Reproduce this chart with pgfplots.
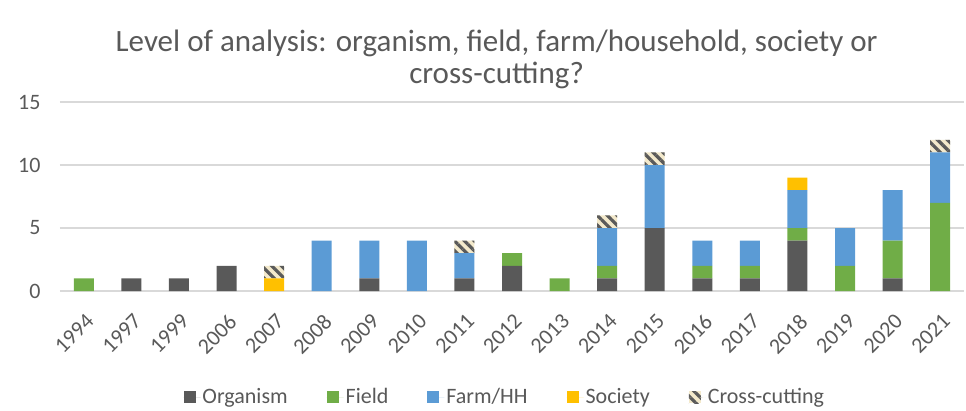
\documentclass[border=0pt]{standalone}
\usepackage{fontspec}
\setmainfont{Carlito}
\usepackage{pgfplots}
\usepackage{pgfplotstable}
\pgfplotsset{compat=1.18}
\usetikzlibrary{patterns.meta}
\definecolor{cOrg}{HTML}{595959}
\definecolor{cField}{HTML}{70AD47}
\definecolor{cFarm}{HTML}{5B9BD5}
\definecolor{cSoc}{HTML}{FFC000}
\definecolor{cCrossBg}{HTML}{F3E9CB}
\definecolor{cCrossFg}{HTML}{5A5A5A}
\definecolor{cGrid}{HTML}{D9D9D9}
\definecolor{cText}{HTML}{595959}
\pgfplotstableread{
x org field farm soc cross
0  0 1 0 0 0
1  1 0 0 0 0
2  1 0 0 0 0
3  2 0 0 0 0
4  0 0 0 1 1
5  0 0 4 0 0
6  1 0 3 0 0
7  0 0 4 0 0
8  1 0 2 0 1
9  2 1 0 0 0
10 0 1 0 0 0
11 1 1 3 0 1
12 5 0 5 0 1
13 1 1 2 0 0
14 1 1 2 0 0
15 4 1 3 1 0
16 0 2 3 0 0
17 1 3 4 0 0
18 0 7 4 0 1
}\datatable
\begin{document}
\begin{tikzpicture}[font=\fontsize{22}{26}\selectfont]
\begin{axis}[
  at={(0pt,0pt)}, anchor=south west,
  scale only axis, width=904pt, height=189pt,
  ybar stacked, bar width=20pt,
  xmin=-0.5, xmax=18.5, ymin=0, ymax=15,
  xtick={0,...,18},
  xticklabels={1994,1997,1999,2006,2007,2008,2009,2010,2011,2012,2013,2014,2015,2016,2017,2018,2019,2020,2021},
  ytick={0,5,10,15},
  /pgf/number format/assume math mode=true,
  ymajorgrids, grid style={cGrid, line width=1.4pt},
  axis line style={draw=none},
  major tick length=0pt,
  tick label style={text=cText},
  xticklabel style={anchor=north east, xshift=1pt, yshift=-17pt, rotate=45},
  yticklabel style={xshift=-16pt},
  clip=false,
  legend columns=5,
  legend style={draw=none, at={(0.492,-0.561)}, anchor=center, text=cText,
    /tikz/every even column/.append style={column sep=37pt}},
  legend image code/.code={\path[#1, draw=none] (0pt,-6pt) rectangle (12pt,6pt); \path (0pt,0pt) -- (17pt,0pt);},
]
\addplot[fill=cOrg, draw=none] table[x=x, y=org] {\datatable};
\addplot[fill=cField, draw=none] table[x=x, y=field] {\datatable};
\addplot[fill=cFarm, draw=none] table[x=x, y=farm] {\datatable};
\addplot[fill=cSoc, draw=none] table[x=x, y=soc] {\datatable};
\addplot[fill=cCrossBg, draw=none, postaction={pattern={Lines[angle=-45, distance=7pt, line width=3.2pt]}, pattern color=cCrossFg}] table[x=x, y=cross] {\datatable};
\legend{Organism, Field, Farm/HH, Society, Cross-cutting}
\node[text=cText, align=center, font=\fontsize{31}{32}\selectfont] at (rel axis cs:0.483,1.225) {Level of analysis: organism, field, farm/household, society or\\cross-cutting?};
\end{axis}
\pgfresetboundingbox
\path[use as bounding box] (-60pt,-119pt) rectangle (906pt,291pt);
\end{tikzpicture}
\end{document}
